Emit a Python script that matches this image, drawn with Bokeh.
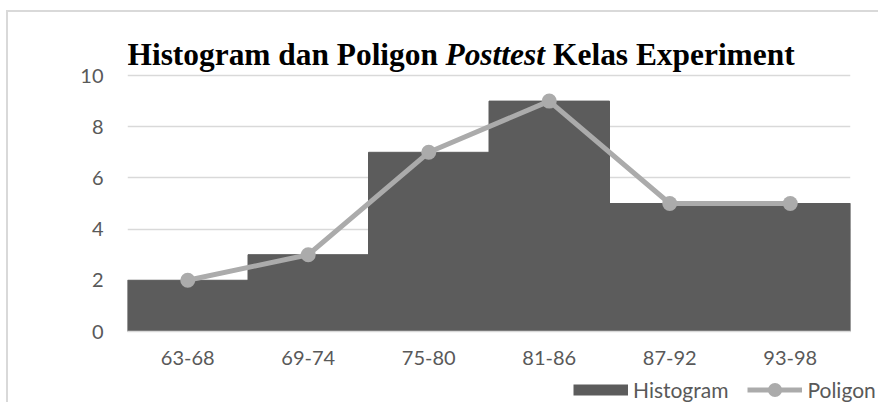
from bokeh.plotting import figure
from bokeh.layouts import column, row
from bokeh.models import Legend, LegendItem, Label, FactorRange, Range1d, FixedTicker
from bokeh.embed import file_html
from bokeh.resources import INLINE

categories = ["63-68", "69-74", "75-80", "81-86", "87-92", "93-98"]
histogram = [2, 3, 7, 9, 5, 5]
poligon = [2, 3, 7, 9, 5, 5]
y_ticks = [0, 2, 4, 6, 8, 10]
title_parts = ["Histogram dan Poligon", "Posttest", "Kelas Experiment"]
series_names = ["Histogram", "Poligon"]

BAR = "#5c5c5c"
LINE = "#ababab"
GRID = "#d9d9d9"
TXT = "#595959"

FRAME_H = 331
BOTTOM = 44
# y range top chosen so that value 10 sits 75px below the canvas top
y_top = 10 * FRAME_H / (FRAME_H - 75)

p = figure(
    x_range=FactorRange(*categories, range_padding=0),
    y_range=Range1d(0, y_top),
    width=878, height=FRAME_H + BOTTOM,
    output_backend="svg", toolbar_location=None,
    min_border_left=127, min_border_right=28,
    min_border_top=0, min_border_bottom=BOTTOM,
)
p.outline_line_color = None
p.border_fill_color = None
p.background_fill_color = None

bars = p.vbar(x=categories, top=histogram, width=1.0, fill_color=BAR, line_color=BAR, line_width=1)
ln = p.line(x=categories, y=poligon, line_color=LINE, line_width=5)
pts = p.scatter(x=categories, y=poligon, size=15, fill_color=LINE, line_color=None)

p.xgrid.grid_line_color = None
p.ygrid.ticker = FixedTicker(ticks=y_ticks)
p.ygrid.grid_line_color = GRID
p.ygrid.grid_line_width = 1.5

p.yaxis.ticker = FixedTicker(ticks=y_ticks)
p.yaxis.axis_line_color = None
p.yaxis.major_tick_line_color = None
p.yaxis.minor_tick_line_color = None
p.yaxis.major_tick_out = 0
p.yaxis.major_label_standoff = 24
p.xaxis.axis_line_color = GRID
p.xaxis.axis_line_width = 1.5
p.xaxis.major_tick_line_color = None
p.xaxis.major_tick_out = 0
p.xaxis.major_label_standoff = 19
for ax in (p.xaxis[0], p.yaxis[0]):
    ax.major_label_text_font = "Lato"
    ax.major_label_text_font_size = "20px"
    ax.major_label_text_color = TXT

TITLE_PX = 31.4
xs = [0, 318.0, 425.6]
styles = ["bold", "bold italic", "bold"]
for t, x, s in zip(title_parts, xs, styles):
    p.add_layout(Label(x=x, y=FRAME_H - 54, x_units="screen", y_units="screen", text=t,
                       text_font="Liberation Serif", text_font_style=s,
                       text_font_size=f"{TITLE_PX}px", text_color="black",
                       text_baseline="alphabetic", text_align="left"))

# legend strip below the chart (own canvas so the legend is not clipped);
# key renderers reuse the data but sit outside this strip's y range
LEG_H = 402 - FRAME_H - BOTTOM
GLYPH_H = 35
lg = figure(width=878, height=LEG_H, x_range=FactorRange(*categories),
            y_range=Range1d(100, 101),
            output_backend="svg", toolbar_location=None,
            x_axis_location=None, y_axis_location=None,
            min_border=0, min_border_left=0, min_border_right=0,
            min_border_top=0, min_border_bottom=0)
lg.outline_line_color = None
lg.border_fill_color = None
lg.background_fill_color = None
lg.grid.visible = False
key_hist = lg.line(x=categories, y=histogram, line_color=BAR, line_width=11, line_cap="butt")
key_line = lg.line(x=categories, y=poligon, line_color=LINE, line_width=5)
key_pts = lg.scatter(x=categories, y=poligon, size=15, fill_color=LINE, line_color=None)

legend = Legend(
    items=[LegendItem(label=series_names[0], renderers=[key_hist]),
           LegendItem(label=series_names[1], renderers=[key_line, key_pts])],
    orientation="horizontal", location=(573, 13 - GLYPH_H / 2),
    padding=0, margin=0, spacing=19, label_standoff=5,
    glyph_width=55, glyph_height=GLYPH_H,
    border_line_color=None, background_fill_alpha=0,
    label_text_font="Lato", label_text_font_size="21px", label_text_color=TXT,
)
lg.add_layout(legend, "center")

layout = column(p, row(lg), spacing=0)
layout.styles = {"box-shadow": "inset 6px 10px 0 0 #ffffff, inset 8px 12px 0 0 #d9d9d9"}

open("out.html", "w").write(file_html(layout, INLINE))
